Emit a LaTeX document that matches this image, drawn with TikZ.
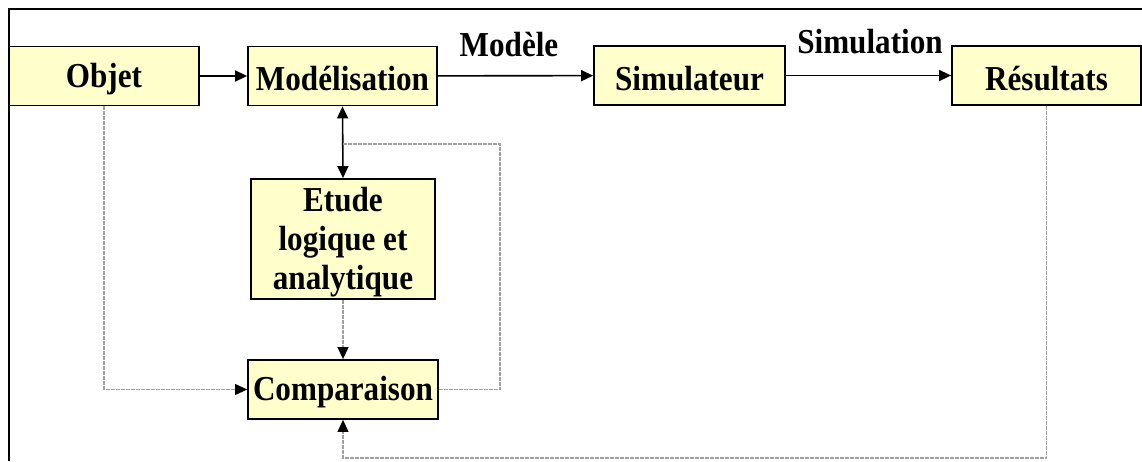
\documentclass[tikz,border=0pt]{standalone}
\usepackage{fontspec}
\setmainfont{Liberation Serif}
\usetikzlibrary{arrows.meta}
\definecolor{boxfill}{HTML}{FFFFCC}
\definecolor{flowgray}{HTML}{A0A0A0}
% narrow bold lettering
\newcommand{\nw}[1]{\scalebox{0.89}[1]{#1}}
% narrow lettering, set a little lower inside a block
\newcommand{\bw}[1]{\raisebox{-3pt}[\height][\depth]{\nw{#1}}}
\begin{document}
\begin{tikzpicture}[x=1pt,y=-1pt,
  every node/.style={font=\fontsize{35}{39}\selectfont\bfseries},
  blk/.style={draw=black, line width=1.8pt, fill=boxfill, inner sep=0pt,
    minimum width=190pt, minimum height=59pt, align=center},
  tip/.style={-{Triangle[length=12pt,width=11pt,color=black,fill=black]}},
  mainflow/.style={draw=black, line width=1.6pt, tip},
  checkflow/.style={draw=flowgray, line width=1.1pt, dash pattern=on 4pt off 1pt},
  lbl/.style={inner sep=0pt}]
\useasboundingbox (0,0) rectangle (1142,461);

% frame
\draw[line width=2pt] (9,461) -- (9,9) -- (1142,9);

% blocks
\node[blk] (obj) at (104,76) {\bw{Objet}};
\node[blk, minimum width=189pt] (mod) at (342.5,76) {\bw{Modélisation}};
\node[blk, minimum width=191pt] (sim) at (689.5,75.5) {\bw{Simulateur}};
\node[blk, minimum width=189pt] (res) at (1046.5,75.5) {\bw{Résultats}};
\node[blk, minimum width=184pt, minimum height=120pt] (etu) at (343,239)
  {\bw{Etude}\\\bw{logique et}\\\bw{analytique}};
\node[blk] (cmp) at (343,389.5) {\bw{Comparaison}};

% labels of the main chain
\node[lbl] (lmod) at (509,45) {\nw{Modèle}};
\node[lbl] (lsim) at (870,42) {\nw{Simulation}};

% main chain
\draw[mainflow] (obj) -- (mod);
\draw[mainflow] (mod) -- (sim);
\draw[mainflow] (sim) -- (res);
\draw[draw=black, line width=1.6pt,
  {Triangle[length=12pt,width=11pt]}-{Triangle[length=12pt,width=11pt]}]
  (mod.south) -- (etu.north);

% comparison paths
\coordinate (loop) at (500,144);
\coordinate (bot) at (343,458);
\draw[checkflow, tip] (obj.south) |- (cmp.west);
\draw[checkflow, tip] (etu.south) -- (cmp.north);
\draw[checkflow] (cmp.east) -| (loop) -- (loop -| mod.south);
\draw[checkflow, tip] (res.south) |- (bot) -- (cmp.south);
\end{tikzpicture}
\end{document}
